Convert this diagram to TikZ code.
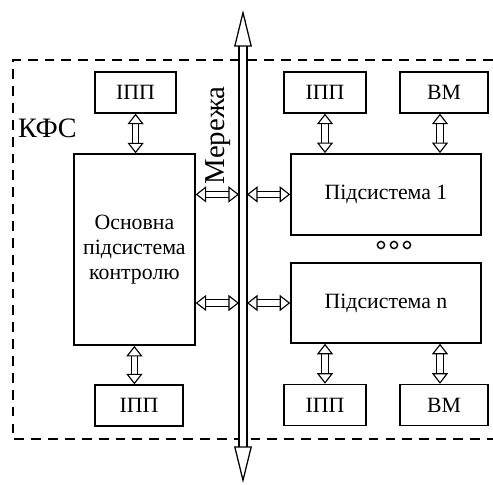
\documentclass[tikz,border=0pt]{standalone}
\usepackage{fontspec}
\setmainfont{Liberation Serif}
\usetikzlibrary{arrows.meta,positioning}

\begin{document}
\begin{tikzpicture}[
        block/.style={draw, line width=1.1pt, inner sep=0pt, align=center,
            font=\fontsize{15.5}{18}\selectfont},
        link/.style={double, double distance=3.6pt, line width=0.8pt,
            {Triangle[open, length=7.5pt, width=11.5pt]}-{Triangle[open, length=7.5pt, width=11.5pt]}},
        bus/.style={double, double distance=4.8pt, line width=0.9pt,
            {Triangle[open, length=26pt, width=12.5pt]}-{Triangle[open, length=26pt, width=12.5pt]}},
        frame/.style={line width=1.8pt, dash pattern=on 7pt off 5pt}
    ]
    \useasboundingbox (0,0) rectangle (12.325,-12.125);

    % dashed border of the system, open on the right
    \draw[frame] (12.325,-1.5) -| (0.325,-10.975) -- (12.325,-10.975);
    \node[anchor=west, font=\fontsize{20}{22}\selectfont] (kfs) at (0.33,-3.2) {КФС};

    % network bus
    \coordinate (bustop) at (6.075,-0.25);
    \coordinate (busbot) at (6.075,-12.075);
    \coordinate (busl) at (5.975,0);
    \coordinate (busr) at (6.175,0);
    \draw[bus] (busbot) -- (bustop);
    \node[rotate=90, font=\fontsize{20.5}{22}\selectfont] (net) at (5.45,-3.38) {Мережа};

    % main control subsystem with its sensors
    \node[block, minimum width=2.025cm, minimum height=1.025cm] (ipp1) at (3.39,-2.31) {ІПП};
    \node[block, minimum width=3.025cm, minimum height=4.775cm] (main) at (3.36,-6.24)
        {Основна\\підсистема\\контролю};
    \node[block, minimum width=2.2cm, minimum height=1.025cm] (ipp2) at (3.475,-10.14) {ІПП};

    % subsystems 1 ... n
    \node[block, minimum width=2.05cm, minimum height=1.025cm] (ipp3) at (8.125,-2.31) {ІПП};
    \node[block, minimum width=2.2cm, minimum height=1.025cm] (vm1) at (11.1,-2.31) {ВМ};
    \node[block, minimum width=4.75cm, minimum height=2.025cm] (sub1) at (9.65,-4.86) {Підсистема 1};
    \node[block, minimum width=4.75cm, minimum height=2cm] (subn) at (9.65,-7.575) {Підсистема n};
    \node[block, minimum width=2.05cm, minimum height=1.025cm] (ipp4) at (8.125,-10.125) {ІПП};
    \node[block, minimum width=2.2cm, minimum height=1.025cm] (vm2) at (11.1,-10.125) {ВМ};

    % dots between the subsystems
    \foreach \x in {9.525,9.85,10.175}
        \draw[line width=1pt] (\x,-6.125) circle (0.09);

    % links
    \draw[link] (ipp1.south) -- (ipp1.south |- main.north);
    \draw[link] (main.south) -- (main.south |- ipp2.north);
    \draw[link] (main.east |- sub1) -- (busl |- sub1);
    \draw[link] (main.east |- subn) -- (busl |- subn);
    \draw[link] (busr |- sub1) -- (sub1.west);
    \draw[link] (busr |- subn) -- (subn.west);
    \draw[link] (ipp3.south) -- (ipp3.south |- sub1.north);
    \draw[link] ([xshift=-0.1cm]vm1.south) -- ([xshift=-0.1cm]vm1.south |- sub1.north);
    \draw[link] (subn.south -| ipp4) -- (ipp4.north);
    \draw[link] ([xshift=-0.1cm]subn.south -| vm2) -- ([xshift=-0.1cm]vm2.north);

\end{tikzpicture}
\end{document}
